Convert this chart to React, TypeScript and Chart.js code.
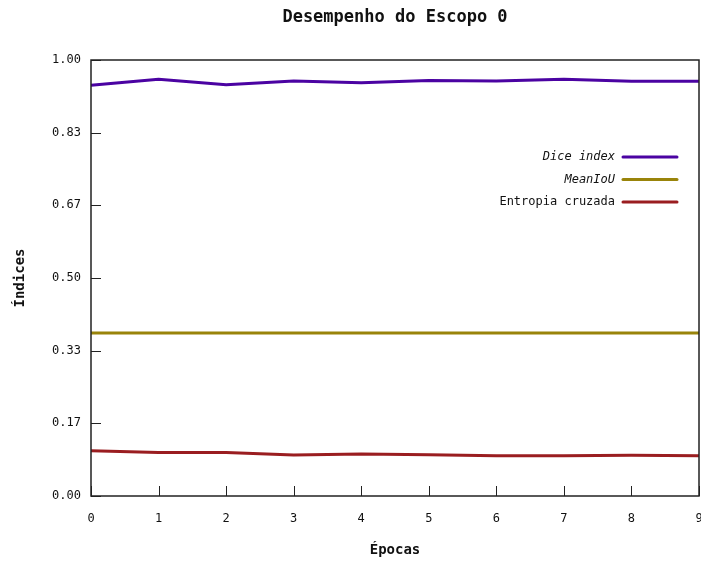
import { useEffect, useRef } from 'react';
import { Chart, registerables } from 'chart.js';

Chart.register(...registerables);

const chartTitle = 'Desempenho do Escopo 0';
const epochs = ['0', '1', '2', '3', '4', '5', '6', '7', '8', '9'];
const diceIndex = [0.942, 0.956, 0.943, 0.952, 0.948, 0.953, 0.952, 0.956, 0.951, 0.951];
const meanIoU = [0.374, 0.374, 0.374, 0.374, 0.374, 0.374, 0.374, 0.374, 0.374, 0.374];
const crossEntropy = [0.104, 0.0995, 0.1, 0.094, 0.0963, 0.0948, 0.0925, 0.0925, 0.0933, 0.0925];
const yTicks = [0, 1 / 6, 2 / 6, 3 / 6, 4 / 6, 5 / 6, 1];
const seriesLabels = ['Dice index', 'MeanIoU', 'Entropia cruzada'];
const seriesColors = ['#4b03a2', '#99840a', '#9a1d20'];
const legendItalic = [true, true, false];

const FONT = '"DejaVu Sans Mono", monospace';

const framePlugin = {
  id: 'frameTicks',
  afterDatasetsDraw(chart: any) {
    const { ctx, chartArea } = chart;
    const { left, right, top, bottom } = chartArea;
    const xs = chart.scales.x;
    const ys = chart.scales.y;
    ctx.save();
    ctx.strokeStyle = '#222';
    ctx.lineWidth = 1;
    ctx.beginPath();
    xs.ticks.forEach((_t: any, i: number) => {
      const px = Math.round(xs.getPixelForTick(i)) + 0.5;
      ctx.moveTo(px, bottom);
      ctx.lineTo(px, bottom - 10);
    });
    yTicks.forEach((v) => {
      const py = Math.round(ys.getPixelForValue(v)) + 0.5;
      ctx.moveTo(left, py);
      ctx.lineTo(left + 10, py);
    });
    ctx.stroke();
    ctx.lineWidth = 1.5;
    ctx.strokeRect(left, top, right - left, bottom - top);
    ctx.restore();
  },
  afterDraw(chart: any) {
    const { ctx, chartArea } = chart;
    ctx.save();
    // title centred over the plot area
    ctx.font = `bold 17px ${FONT}`;
    ctx.textAlign = 'center';
    ctx.textBaseline = 'middle';
    ctx.fillStyle = '#111';
    ctx.fillText(chartTitle, (chartArea.left + chartArea.right) / 2, chartArea.top - 42);
    // legend
    const textRight = chartArea.right - 84;
    const lineStart = chartArea.right - 76;
    const lineEnd = chartArea.right - 22;
    chart.data.datasets.forEach((ds: any, i: number) => {
      const y = chartArea.top + 97 + i * 22.5;
      ctx.font = `${legendItalic[i] ? 'italic ' : ''}12px ${FONT}`;
      ctx.textAlign = 'right';
      ctx.textBaseline = 'middle';
      ctx.fillStyle = '#111';
      ctx.fillText(ds.label, textRight, y);
      ctx.strokeStyle = ds.borderColor;
      ctx.lineWidth = 3;
      ctx.lineCap = 'round';
      ctx.beginPath();
      ctx.moveTo(lineStart, y);
      ctx.lineTo(lineEnd, y);
      ctx.stroke();
    });
    ctx.restore();
  },
};

export default function App() {
  const ref = useRef<HTMLCanvasElement | null>(null);
  useEffect(() => {
    document.body.style.margin = '0';
    if (!ref.current) return;
    const seriesData = [diceIndex, meanIoU, crossEntropy];
    const chart = new Chart(ref.current, {
      type: 'line',
      data: {
        labels: epochs,
        datasets: seriesData.map((d, i) => ({
          label: seriesLabels[i],
          data: d,
          borderColor: seriesColors[i],
          backgroundColor: seriesColors[i],
          borderWidth: 3,
          pointRadius: 0,
          tension: 0,
          fill: false,
        })),
      },
      options: {
        responsive: false,
        animation: false,
        layout: { padding: { left: 0, right: 2, top: 60, bottom: 0 } },
        plugins: {
          legend: { display: false },
          tooltip: { enabled: false },
          title: { display: false },
        },
        scales: {
          x: {
            type: 'category',
            offset: false,
            grid: { display: false, drawTicks: false },
            border: { display: false },
            ticks: {
              color: '#111',
              font: { family: FONT, size: 12 },
              padding: 16,
              maxRotation: 0,
              autoSkip: false,
            },
            title: {
              display: true,
              text: 'Épocas',
              color: '#111',
              font: { family: FONT, size: 14, weight: 'bold' },
              padding: { top: 0, bottom: 4.6 },
            },
            afterFit: (scale: any) => {
              scale.height = 67;
              scale.paddingLeft = 0;
              scale.paddingRight = 0;
            },
          },
          y: {
            min: 0,
            max: 1,
            grid: { display: false, drawTicks: false },
            border: { display: false },
            afterBuildTicks: (scale: any) => {
              scale.ticks = yTicks.map((v) => ({ value: v }));
            },
            ticks: {
              color: '#111',
              font: { family: FONT, size: 12 },
              padding: 10,
              callback: (v: any) => Number(v).toFixed(2),
            },
            title: {
              display: true,
              text: 'Índices',
              color: '#111',
              font: { family: FONT, size: 14, weight: 'bold' },
              padding: { top: 11.6, bottom: 0 },
            },
            afterFit: (scale: any) => {
              scale.width = 91;
              scale.paddingTop = 0;
              scale.paddingBottom = 0;
            },
          },
        },
      },
      plugins: [framePlugin],
    });
    return () => chart.destroy();
  }, []);
  return <canvas ref={ref} width={701} height={563} style={{ display: 'block' }} />;
}
